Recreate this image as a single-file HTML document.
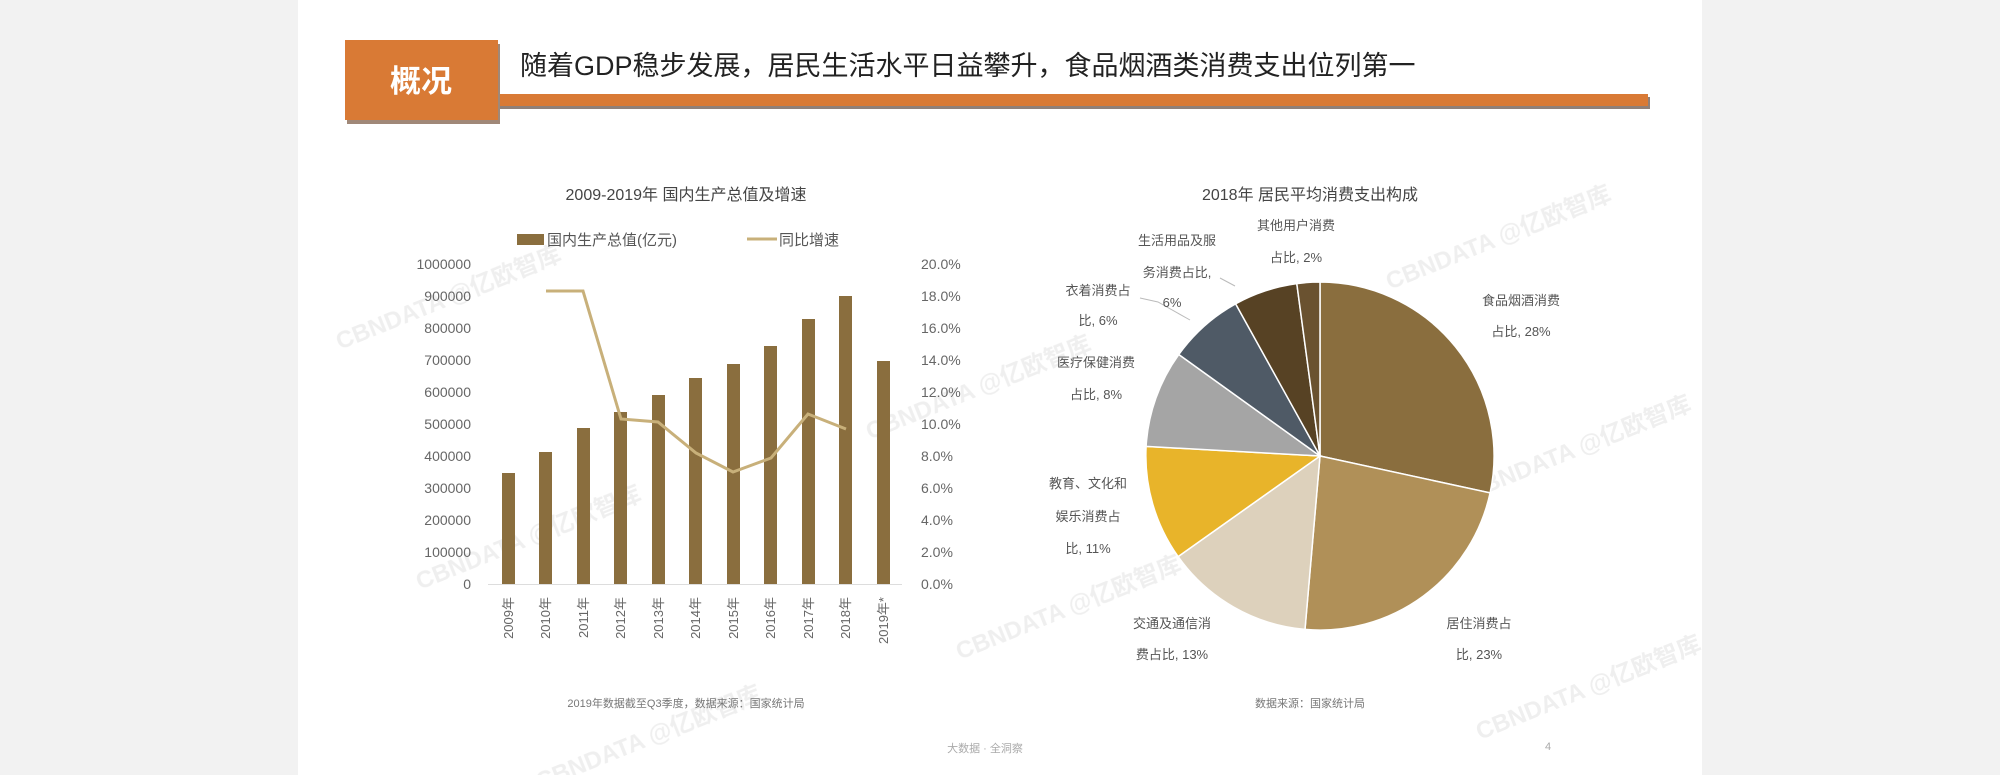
<!DOCTYPE html>
<html><head><meta charset="utf-8"><style>
html,body{margin:0;padding:0;background:#f2f2f2;}
svg{display:block;font-family:"Liberation Sans","Noto Sans CJK SC",sans-serif;}
</style></head><body>
<svg width="2000" height="775" viewBox="0 0 2000 775" xmlns="http://www.w3.org/2000/svg">
<rect x="0" y="0" width="2000" height="775" fill="#f2f2f2"/>
<rect x="298" y="0" width="1404" height="775" fill="#ffffff"/>
<!-- header -->
<rect x="500" y="97" width="1150" height="12" fill="#908078"/>
<rect x="498" y="94" width="1150" height="12" fill="#d97a35"/>
<rect x="347" y="44" width="153" height="80" fill="#a08878"/>
<rect x="345" y="40" width="153" height="80" fill="#d97a35"/>
<text x="421" y="92" font-size="31" font-weight="bold" fill="#fff" text-anchor="middle">概况</text>
<text x="520" y="75" font-size="27" fill="#222">随着GDP稳步发展，居民生活水平日益攀升，食品烟酒类消费支出位列第一</text>

<!-- watermarks -->
<g fill="#e2e2e2" font-size="24" font-weight="bold" opacity="0.55">
<text transform="translate(340,350) rotate(-22)">CBNDATA @亿欧智库</text>
<text transform="translate(420,590) rotate(-22)">CBNDATA @亿欧智库</text>
<text transform="translate(870,440) rotate(-22)">CBNDATA @亿欧智库</text>
<text transform="translate(960,660) rotate(-22)">CBNDATA @亿欧智库</text>
<text transform="translate(1390,290) rotate(-22)">CBNDATA @亿欧智库</text>
<text transform="translate(1470,500) rotate(-22)">CBNDATA @亿欧智库</text>
<text transform="translate(1480,740) rotate(-22)">CBNDATA @亿欧智库</text>
<text transform="translate(540,790) rotate(-22)">CBNDATA @亿欧智库</text>
</g>

<!-- bar chart -->
<text x="686" y="200" font-size="16" fill="#444" text-anchor="middle">2009-2019年 国内生产总值及增速</text>
<rect x="517" y="234" width="27" height="11" fill="#8a6e3e"/>
<text x="547" y="245" font-size="15" fill="#555">国内生产总值(亿元)</text>
<line x1="747" y1="239" x2="777" y2="239" stroke="#c8b07a" stroke-width="3"/>
<text x="779" y="245" font-size="15" fill="#555">同比增速</text>
<g font-size="14" fill="#666" text-anchor="end">
<text x="471" y="269">1000000</text><text x="471" y="301">900000</text><text x="471" y="333">800000</text>
<text x="471" y="365">700000</text><text x="471" y="397">600000</text><text x="471" y="429">500000</text>
<text x="471" y="461">400000</text><text x="471" y="493">300000</text><text x="471" y="525">200000</text>
<text x="471" y="557">100000</text><text x="471" y="589">0</text>
</g>
<g font-size="14" fill="#666">
<text x="921" y="269">20.0%</text><text x="921" y="301">18.0%</text><text x="921" y="333">16.0%</text>
<text x="921" y="365">14.0%</text><text x="921" y="397">12.0%</text><text x="921" y="429">10.0%</text>
<text x="921" y="461">8.0%</text><text x="921" y="493">6.0%</text><text x="921" y="525">4.0%</text>
<text x="921" y="557">2.0%</text><text x="921" y="589">0.0%</text>
</g>
<line x1="488" y1="584.5" x2="902" y2="584.5" stroke="#ddd" stroke-width="1"/>
<g fill="#8a6e3e">
<rect x="502" y="473" width="13" height="111"/>
<rect x="539" y="452" width="13" height="132"/>
<rect x="577" y="428" width="13" height="156"/>
<rect x="614" y="412" width="13" height="172"/>
<rect x="652" y="395" width="13" height="189"/>
<rect x="689" y="378" width="13" height="206"/>
<rect x="727" y="364" width="13" height="220"/>
<rect x="764" y="346" width="13" height="238"/>
<rect x="802" y="319" width="13" height="265"/>
<rect x="839" y="296" width="13" height="288"/>
<rect x="877" y="361" width="13" height="223"/>
</g>
<polyline points="546,291 583,291 621,419 658,422 696,453 733,472 771,458 808,414 846,429" fill="none" stroke="#c8b07a" stroke-width="3"/>
<g font-size="13" fill="#666" text-anchor="end">
<text transform="translate(513,597) rotate(-90)">2009年</text>
<text transform="translate(550,597) rotate(-90)">2010年</text>
<text transform="translate(588,597) rotate(-90)">2011年</text>
<text transform="translate(625,597) rotate(-90)">2012年</text>
<text transform="translate(663,597) rotate(-90)">2013年</text>
<text transform="translate(700,597) rotate(-90)">2014年</text>
<text transform="translate(738,597) rotate(-90)">2015年</text>
<text transform="translate(775,597) rotate(-90)">2016年</text>
<text transform="translate(813,597) rotate(-90)">2017年</text>
<text transform="translate(850,597) rotate(-90)">2018年</text>
<text transform="translate(888,597) rotate(-90)">2019年*</text>
</g>
<text x="686" y="707" font-size="11" fill="#777" text-anchor="middle">2019年数据截至Q3季度，数据来源：国家统计局</text>

<!-- pie -->
<text x="1310" y="200" font-size="16" fill="#444" text-anchor="middle">2018年 居民平均消费支出构成</text>
<g stroke="#fff" stroke-width="1.5">
<path d="M1320,456 L1320.0,282.0 A174,174 0 0,1 1490.1,492.9 Z" fill="#8a6e3e"/>
<path d="M1320,456 L1490.1,492.9 A174,174 0 0,1 1305.0,629.4 Z" fill="#b09058"/>
<path d="M1320,456 L1305.0,629.4 A174,174 0 0,1 1178.1,556.6 Z" fill="#ddd1bc"/>
<path d="M1320,456 L1178.1,556.6 A174,174 0 0,1 1146.1,446.4 Z" fill="#e8b42a"/>
<path d="M1320,456 L1146.1,446.4 A174,174 0 0,1 1178.8,354.5 Z" fill="#a5a5a5"/>
<path d="M1320,456 L1178.8,354.5 A174,174 0 0,1 1235.6,303.8 Z" fill="#4f5a66"/>
<path d="M1320,456 L1235.6,303.8 A174,174 0 0,1 1296.8,283.6 Z" fill="#574224"/>
<path d="M1320,456 L1296.8,283.6 A174,174 0 0,1 1320.0,282.0 Z" fill="#6a5230"/>
</g>
<polyline points="1220,278 1235,286" fill="none" stroke="#bbb"/>
<polyline points="1140,298 1158,302 1190,320" fill="none" stroke="#bbb"/>
<g font-size="13" fill="#555" text-anchor="middle">
<text x="1521" y="305">食品烟酒消费</text><text x="1521" y="336">占比, 28%</text>
<text x="1479" y="628">居住消费占</text><text x="1479" y="659">比, 23%</text>
<text x="1172" y="628">交通及通信消</text><text x="1172" y="659">费占比, 13%</text>
<text x="1088" y="488">教育、文化和</text><text x="1088" y="521">娱乐消费占</text><text x="1088" y="553">比, 11%</text>
<text x="1096" y="367">医疗保健消费</text><text x="1096" y="399">占比, 8%</text>
<text x="1098" y="295">衣着消费占</text><text x="1098" y="325">比, 6%</text>
<text x="1177" y="245">生活用品及服</text><text x="1177" y="277">务消费占比,</text><text x="1172" y="307">6%</text>
<text x="1296" y="230">其他用户消费</text><text x="1296" y="262">占比, 2%</text>
</g>
<text x="1310" y="707" font-size="11" fill="#777" text-anchor="middle">数据来源：国家统计局</text>

<text x="985" y="752" font-size="11" fill="#aaa" text-anchor="middle">大数据 · 全洞察</text>
<text x="1545" y="750" font-size="11" fill="#aaa">4</text>
</svg>
</body></html>
